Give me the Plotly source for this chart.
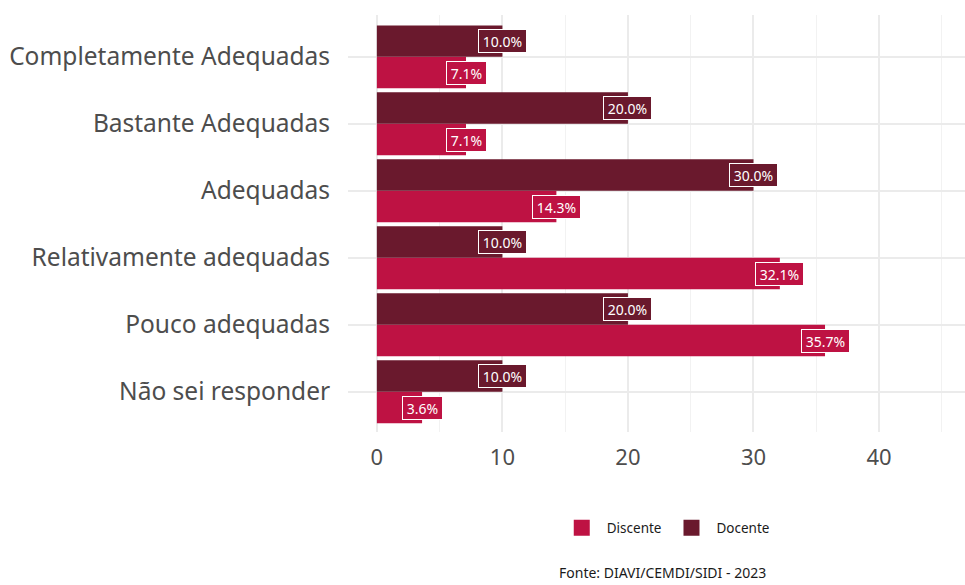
import plotly.graph_objects as go

categories = ["Não sei responder", "Pouco adequadas", "Relativamente adequadas",
              "Adequadas", "Bastante Adequadas", "Completamente Adequadas"]
discente = [3.6, 35.7, 32.1, 14.3, 7.1, 7.1]
docente = [10.0, 20.0, 10.0, 30.0, 20.0, 10.0]
series = [("Discente", discente, "#BE1243"), ("Docente", docente, "#6A192D")]
x_ticks = [0, 10, 20, 30, 40]
caption = "Fonte: DIAVI/CEMDI/SIDI - 2023"

FONT = "Noto Sans"
bargap = 0.06
half = (1 - bargap) / 2

fig = go.Figure()
for name, vals, col in series:
    fig.add_trace(go.Bar(y=categories, x=vals, name=name, orientation="h",
                         marker=dict(color=col, line=dict(width=0)), showlegend=False,
                         hoverinfo="skip"))
# legend entries with large square keys
for name, vals, col in series:
    fig.add_trace(go.Scatter(x=[None], y=[None], mode="markers", name=name,
                             marker=dict(symbol="square", size=24, color=col)))

for k, (name, vals, col) in enumerate(series):
    off = -half / 2 if k == 0 else half / 2
    for i, v in enumerate(vals):
        fig.add_annotation(x=v, y=i + off, xref="x", yref="y",
                           text="\u2009" + f"{v:.1f}%" + "\u2009",
                           showarrow=False, font=dict(family=FONT, size=14, color="white"),
                           bgcolor=col, bordercolor="white", borderwidth=1, borderpad=1.5,
                           xanchor="center", yanchor="middle")

fig.add_annotation(x=0.51, y=-0.338, xref="paper", yref="paper", text=caption,
                   showarrow=False, font=dict(family=FONT, size=14, color="#1a1a1a"),
                   xanchor="center", yanchor="middle")

fig.update_layout(
    width=965, height=585,
    margin=dict(l=348, r=0, t=15, b=153, autoexpand=False),
    paper_bgcolor="white", plot_bgcolor="white",
    barmode="group", bargap=bargap, bargroupgap=0,
    font=dict(family=FONT, color="#4d4d4d"),
    legend=dict(orientation="h", x=0.515, y=-0.23, xanchor="center", yanchor="middle",
                font=dict(family=FONT, size=13.5, color="#1a1a1a"), itemwidth=40,
                itemsizing="trace"),
    xaxis=dict(range=[-2.3, 46.85], tickvals=x_ticks, showgrid=True, gridcolor="#EBEBEB",
               gridwidth=2, zeroline=False, tickfont=dict(size=22, color="#4d4d4d"),
               ticks="outside", ticklen=6, tickcolor="rgba(0,0,0,0)", automargin=False,
               minor=dict(dtick=5, tick0=5, showgrid=True, gridcolor="#F2F2F2", gridwidth=1)),
    yaxis=dict(categoryorder="array", categoryarray=categories, range=[-0.6, 5.625],
               showgrid=True, gridcolor="#EBEBEB", gridwidth=2, automargin=False,
               tickfont=dict(size=24.5, color="#4d4d4d"),
               ticks="outside", ticklen=12, tickcolor="rgba(0,0,0,0)"),
)

fig.write_html("out.html", config={"displayModeBar": False},
               post_script="document.body.style.margin='0';")
